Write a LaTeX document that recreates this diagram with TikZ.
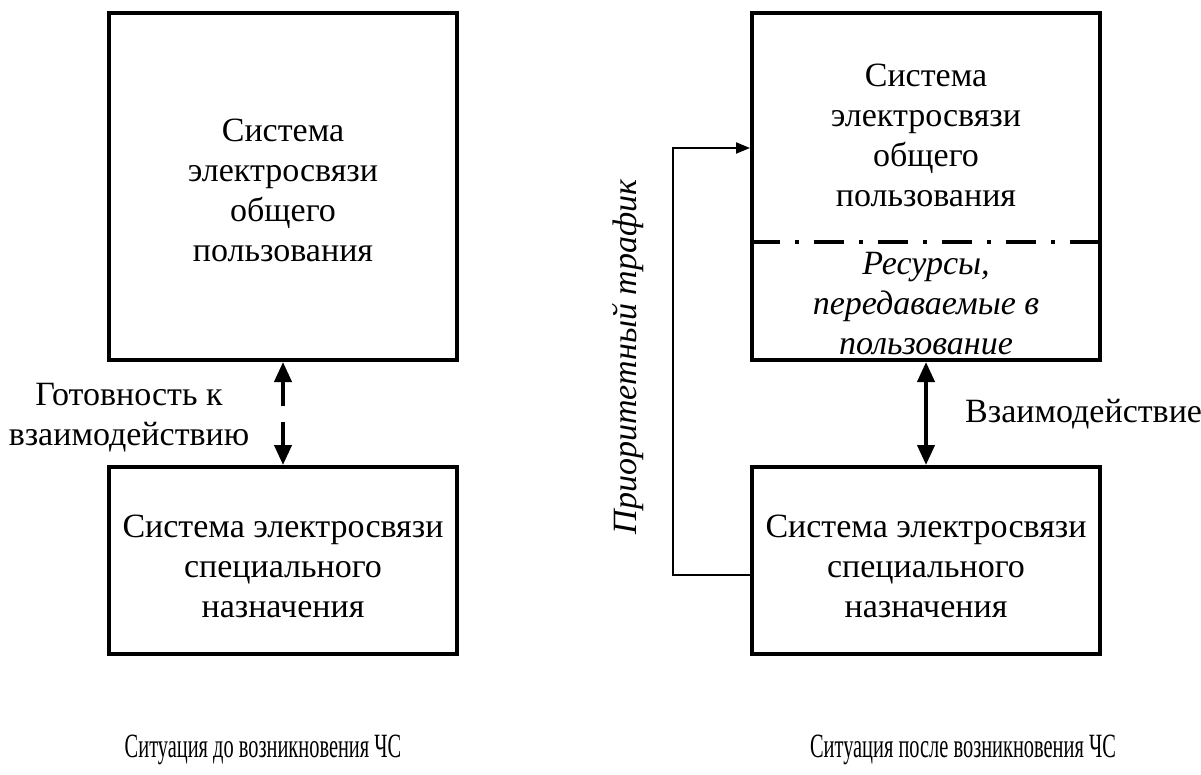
\documentclass[tikz,border=0pt]{standalone}
\usepackage{fontspec}
\setmainfont{Liberation Serif}
\newfontfamily\diagfont{Liberation Serif}
\usetikzlibrary{arrows.meta}
\begin{document}
\begin{tikzpicture}[x=1pt,y=-1pt,
  every node/.style={font=\diagfont\fontsize{34}{40}\selectfont, align=center, inner sep=0pt},
  sysbox/.style={draw, line width=4pt, rectangle, minimum width=348pt},
  caption/.style={xscale=0.6, transform shape},
  thickarrow/.style={line width=4pt, -{Triangle[length=20pt,width=17pt]}},
  thinarrow/.style={line width=2pt, -{Triangle[length=14pt,width=11pt]}},
  rescut/.style={line width=4pt, dash pattern=on 30pt off 15pt on 4pt off 15pt}]
\useasboundingbox (0,0) rectangle (1201,775);

% Left situation
\node[sysbox, minimum height=347pt] (pubL) at (283,186.5) {};
\node (pubLtxt) at (283,190) {Система\\электросвязи\\общего\\пользования};
\node[sysbox, minimum height=187pt] (spcL) at (283,560.5) {};
\node (spcLtxt) at (283,566) {Система электросвязи\\специального\\назначения};
\coordinate (gapTop) at (283,406);
\coordinate (gapBot) at (283,422);
\draw[thickarrow] (gapTop) -- (pubL.south);
\draw[thickarrow] (gapBot) -- (spcL.north);
\node (ready) at (129,418) {Готовность к\\взаимодействию};

% Right situation
\node[sysbox, minimum height=347pt] (pubR) at (926,186.5) {};
\node (pubRtxt) at (926,135) {Система\\электросвязи\\общего\\пользования};
\draw[rescut] (pubR.west |- 0,242) -- (pubR.east |- 0,242);
\node (resR) at (926,304) {\itshape Ресурсы,\\\itshape передаваемые в\\\itshape пользование};
\node[sysbox, minimum height=187pt] (spcR) at (926,560.5) {};
\node (spcRtxt) at (926,566) {Система электросвязи\\специального\\назначения};
\draw[thickarrow, {Triangle[length=20pt,width=17pt]}-{Triangle[length=20pt,width=17pt]}] (pubR.south) -- (spcR.north);
\node[anchor=west] (interact) at (965,414) {Взаимодействие};

% Priority traffic loop
\coordinate (loopX) at (673,0);
\draw[thinarrow] (spcR.west |- 0,575) -| (loopX |- 0,148) -- (pubR.west |- 0,148);
\node[rotate=90] (prio) at (628,357) {\itshape Приоритетный трафик};

% Captions
\node[caption] (capL) at (263,750) {Ситуация до возникновения ЧС};
\node[caption] (capR) at (963,750) {Ситуация после возникновения ЧС};
\end{tikzpicture}
\end{document}
